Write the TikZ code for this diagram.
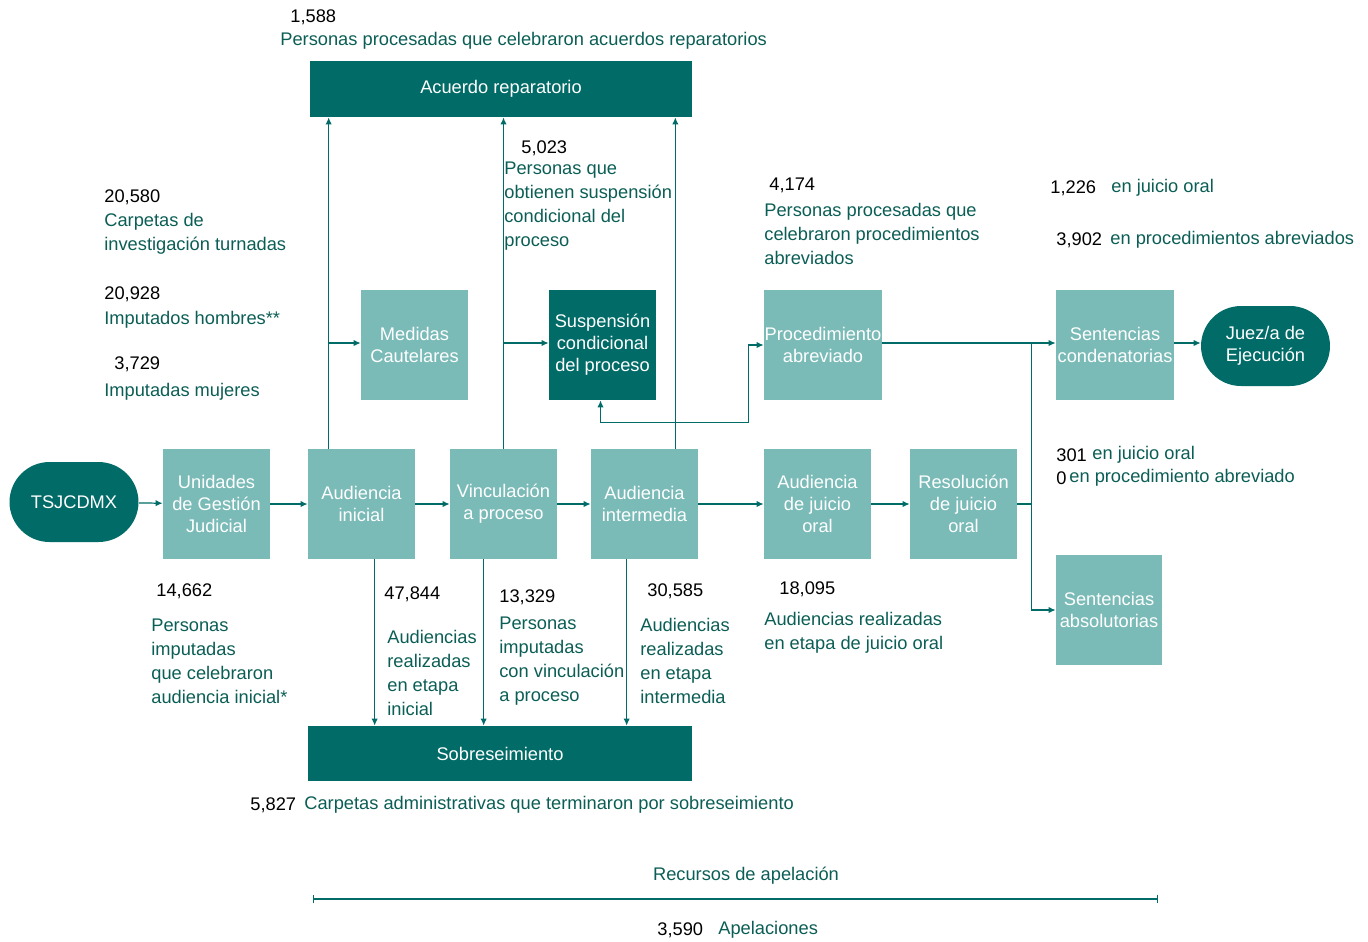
\documentclass[tikz,border=0pt]{standalone}
\usepackage{fontspec}
\setmainfont{Liberation Sans}
\usetikzlibrary{positioning,calc,arrows.meta}
\definecolor{tealdk}{HTML}{006B67}
\definecolor{teallt}{HTML}{7ABBB8}
\definecolor{txtgr}{HTML}{0B5E55}
\tikzset{lbox/.style={fill=teallt,text=white,minimum width=2.14cm,minimum height=2.2cm,inner sep=0pt,align=center,font=\fontsize{10.4}{12.5}\selectfont}  }
\tikzset{dbox/.style={lbox,fill=tealdk}  }
\tikzset{pill/.style={fill=tealdk,text=white,rounded corners=0.8cm,minimum width=2.58cm,minimum height=1.6cm,inner sep=0pt,align=center,font=\fontsize{10.4}{12.8}\selectfont}  }
\tikzset{num/.style={anchor=west,inner sep=0pt,text=black,font=\fontsize{10.4}{13.6}\selectfont}  }
\tikzset{lbl/.style={anchor=west,inner sep=0pt,text=txtgr,align=left,font=\fontsize{10.4}{13.6}\selectfont}  }
\tikzset{flow/.style={draw=tealdk,line width=0.7pt}  }
\tikzset{>={Latex[length=4pt,width=3.6pt]}}

\begin{document}
\begin{tikzpicture}[x=0.02cm,y=-0.02cm]
	\useasboundingbox (0,0) rectangle (1368,941);
		\node[pill] (tsj) at (74,502) {TSJCDMX};
		\node[lbox] (ugj) at (216.5,504) {Unidades\\de Gestión\\Judicial};
		\node[lbox] (ain) at (361.5,504) {Audiencia\\inicial};
		\node[lbox] (vin) at (503.5,504) {Vinculación\\a proceso};
		\node[lbox] (aint) at (644.5,504) {Audiencia\\intermedia};
		\node[lbox] (ajo) at (817.5,504) {Audiencia\\de juicio\\oral};
		\node[lbox] (rjo) at (963.5,504) {Resolución\\de juicio\\oral};
		\node[lbox] (med) at (414.5,345) {Medidas\\Cautelares};
		\node[dbox] (sus) at (602.5,345) {Suspensión\\condicional\\del proceso};
		\node[lbox,minimum width=2.36cm] (pro) at (823,345) {Procedimiento\\abreviado};
		\node[lbox,minimum width=2.36cm] (scon) at (1115,345) {Sentencias\\condenatorias};
		\node[pill] (juez) at (1265.5,346) {Juez/a de\\Ejecución};
		\node[lbox,minimum width=2.12cm] (sabs) at (1109,610) {Sentencias\\absolutorias};
		\node[dbox,minimum width=7.64cm,minimum height=1.12cm] (acu) at (501,89) {Acuerdo reparatorio};
		\node[dbox,minimum width=7.68cm,minimum height=1.1cm] (sob) at (500,753.5) {Sobreseimiento};

		% main line
		\draw[flow,->] (tsj) -- (ugj);
		\draw[flow,->] (ugj) -- (ain);
		\draw[flow,->] (ain) -- (vin);
		\draw[flow,->] (vin) -- (aint);
		\draw[flow,->] (aint) -- (ajo);
		\draw[flow,->] (ajo) -- (rjo);

		% up to acuerdo reparatorio
		\draw[flow,->] ($(ain.north west)+(21,0)$) coordinate (u1) -- (u1 |- acu.south);
		\draw[flow,->] ($(u1 |- med.west)+(0,-2)$) -- ($(med.west)+(0,-2)$);
		\draw[flow,->] (vin.north) -- (vin.north |- acu.south);
		\draw[flow,->] ($(vin.north |- sus.west)+(0,-2)$) -- ($(sus.west)+(0,-2)$);
		\draw[flow,->] ($(aint.north east)+(-23,0)$) coordinate (u3) -- (u3 |- acu.south);
		\draw[flow,<->] ($(sus.south)+(-2,0)$) -- ++(0,22) -| ($(pro.west)+(-15,0)$) -- (pro.west);

		% down to sobreseimiento
		\draw[flow,->] ($(ain.south west)+(67,0)$) coordinate (d1) -- (d1 |- sob.north);
		\draw[flow,->] ($(vin.south west)+(34,0)$) coordinate (d2) -- (d2 |- sob.north);
		\draw[flow,->] ($(aint.south west)+(36,0)$) coordinate (d3) -- (d3 |- sob.north);

		% sentencias
		\coordinate (jx) at ($(rjo.east)+(14,0)$);
		\draw[flow] (rjo.east) -- (jx);
		\draw[flow,->] ($(pro.east)+(0,-2)$) -- ($(scon.west)+(0,-2)$);
		\draw[flow,->] ($(jx |- scon.west)+(0,-2)$) -- (jx |- sabs.west) -- (sabs.west);
		\draw[flow,->] ($(scon.east)+(0,-2)$) -- ($(juez.west)+(0,-3)$);

		% cifras
		\node[num] (n1588) at (290,17) {1,588};
		\node[lbl] (t1588) at (280,41) {Personas procesadas que celebraron acuerdos reparatorios};
		\node[num] (n5023) at (521,148) {5,023};
		\node[lbl] (t5023) at (504,206) {Personas que\\obtienen suspensión\\condicional del\\proceso};
		\node[num] (n4174) at (769,185) {4,174};
		\node[lbl] (t4174) at (764,234) {Personas procesadas que\\celebraron procedimientos\\abreviados};
		\node[num] (n1226) at (1050,188) {1,226};
		\node[lbl] (t1226) at (1111,188) {en juicio oral};
		\node[num] (n3902) at (1056,240) {3,902};
		\node[lbl] (t3902) at (1110,240) {en procedimientos abreviados};
		\node[num] (n20580) at (104,197) {20,580};
		\node[lbl] (t20580) at (104,234) {Carpetas de\\investigación turnadas};
		\node[num] (n20928) at (104,294) {20,928};
		\node[lbl] (t20928) at (104,320) {Imputados hombres**};
		\node[num] (n3729) at (114,364) {3,729};
		\node[lbl] (t3729) at (104,392) {Imputadas mujeres};
		\node[num] (n14662) at (156,591) {14,662};
		\node[lbl] (t14662) at (151,661) {Personas\\imputadas\\que celebraron\\audiencia inicial*};
		\node[num] (n47844) at (384,594) {47,844};
		\node[lbl] (t47844) at (387,673) {Audiencias\\realizadas\\en etapa\\inicial};
		\node[num] (n13329) at (499,597) {13,329};
		\node[lbl] (t13329) at (499,661) {Personas\\imputadas\\con vinculación\\a proceso};
		\node[num] (n30585) at (647,591) {30,585};
		\node[lbl] (t30585) at (640,661) {Audiencias\\realizadas\\en etapa\\intermedia};
		\node[num] (n18095) at (779,589) {18,095};
		\node[lbl] (t18095) at (764,633) {Audiencias realizadas\\en etapa de juicio oral};
		\node[num] (n301) at (1056,455) {301};
		\node[lbl] (t301) at (1092,455) {en juicio oral};
		\node[num] (n0) at (1056,478) {0};
		\node[lbl] (t0) at (1069,478) {en procedimiento abreviado};
		\node[num] (n5827) at (250,805) {5,827};
		\node[lbl] (t5827) at (304,805) {Carpetas administrativas que terminaron por sobreseimiento};

		% apelaciones
		\node[lbl,anchor=center] (rec) at (746,876) {Recursos de apelación};
		\coordinate (r1) at (313,899);
		\coordinate (r2) at (1158,899);
		\draw[flow,{Bar[width=5pt]}-{Bar[width=5pt]}] (r1) -- (r2);
		\node[num] (n3590) at (657,930) {3,590};
		\node[lbl] (t3590) at (718,930) {Apelaciones};
	\end{tikzpicture}
\end{document}
